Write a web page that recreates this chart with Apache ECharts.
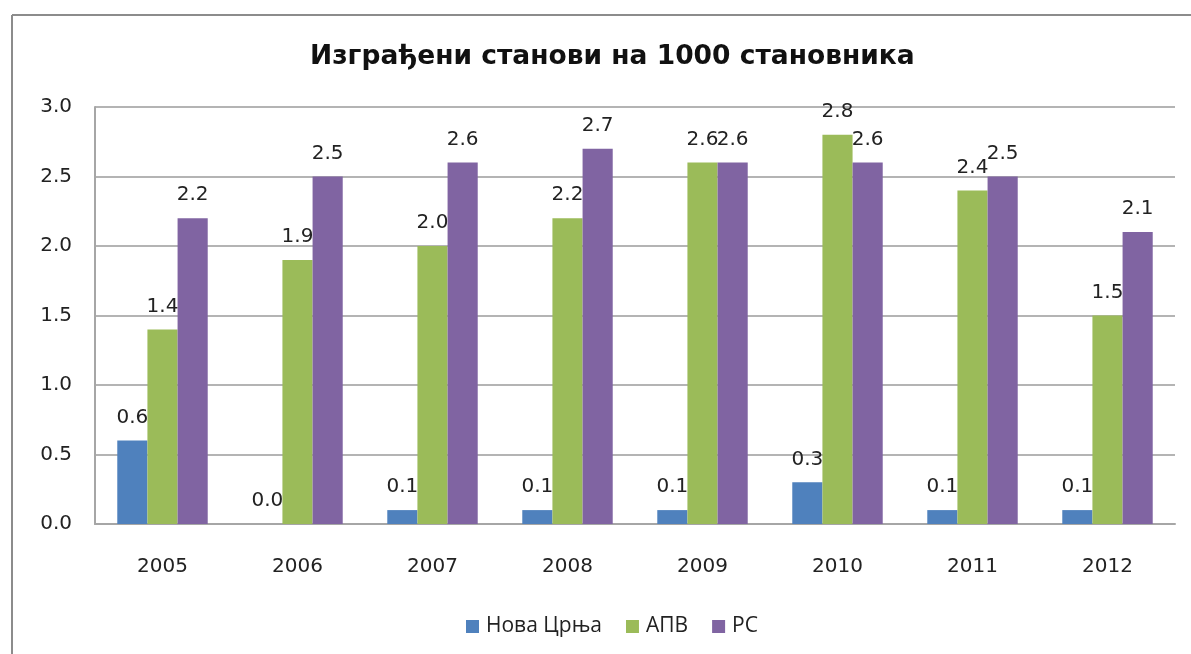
<!DOCTYPE html>
<html>
<head>
<meta charset="utf-8">
<script src="https://cdn.jsdelivr.net/npm/echarts@6/dist/echarts.min.js"></script>
<style>
  html, body { margin: 0; padding: 0; background: #fff; overflow: hidden; }
  #chart { width: 1191px; height: 654px; }
</style>
</head>
<body>
<div id="chart"></div>
<script>
  // data
  var years = ['2005', '2006', '2007', '2008', '2009', '2010', '2011', '2012'];
  var novaCrnja = [0.6, 0.0, 0.1, 0.1, 0.1, 0.3, 0.1, 0.1];
  var apv = [1.4, 1.9, 2.0, 2.2, 2.6, 2.8, 2.4, 1.5];
  var rs = [2.2, 2.5, 2.6, 2.7, 2.6, 2.6, 2.5, 2.1];
  var seriesNames = ['Нова Црња', 'АПВ', 'РС'];
  var colors = ['#4f81bd', '#9bbb59', '#8064a2'];

  var font = 'DejaVu Sans';

  function makeSeries(name, values, color) {
    return {
      name: name,
      type: 'bar',
      data: values,
      barGap: '0%',
      barCategoryGap: '33%',
      itemStyle: { color: color },
      label: {
        show: true,
        position: 'top',
        distance: 13,
        color: '#222',
        fontFamily: font,
        fontSize: 20,
        formatter: function (p) { return p.value.toFixed(1); }
      }
    };
  }

  var chart = echarts.init(document.getElementById('chart'));
  chart.setOption({
    animation: false,
    color: colors,
    // chart frame, cropped: only left and top edges show
    graphic: [
      { type: 'line', shape: { x1: 12, y1: 15, x2: 1191, y2: 15 }, style: { stroke: '#8c8c8c', lineWidth: 2 } },
      { type: 'line', shape: { x1: 12, y1: 15, x2: 12, y2: 654 }, style: { stroke: '#8c8c8c', lineWidth: 2 } }
    ],
    title: {
      text: 'Изграђени станови на 1000 становника',
      left: 305,
      top: 39,
      textStyle: { fontFamily: font, fontSize: 26.5, fontWeight: 'bold', color: '#111' }
    },
    legend: {
      bottom: 12,
      left: 461,
      itemWidth: 13,
      itemHeight: 13,
      itemGap: 24,
      icon: 'rect',
      textStyle: { fontFamily: 'Open Sans', fontSize: 21, color: '#222', padding: [0, 0, 0, 2] },
      data: seriesNames
    },
    grid: { left: 95, right: 16, top: 107, bottom: 130 },
    xAxis: {
      type: 'category',
      data: years,
      axisTick: { show: false },
      axisLine: { lineStyle: { color: '#a6a6a6', width: 2 } },
      axisLabel: { fontFamily: font, fontSize: 20, color: '#222', margin: 33 }
    },
    yAxis: {
      type: 'value',
      min: 0,
      max: 3,
      interval: 0.5,
      axisLine: { show: true, lineStyle: { color: '#a6a6a6', width: 2 } },
      axisTick: { show: false },
      splitLine: { lineStyle: { color: '#b4b4b4', width: 2 } },
      axisLabel: {
        fontFamily: font, fontSize: 20, color: '#222', margin: 23,
        formatter: function (v) { return v.toFixed(1); }
      }
    },
    series: [
      makeSeries(seriesNames[0], novaCrnja, colors[0]),
      makeSeries(seriesNames[1], apv, colors[1]),
      makeSeries(seriesNames[2], rs, colors[2])
    ]
  });
</script>
</body>
</html>
